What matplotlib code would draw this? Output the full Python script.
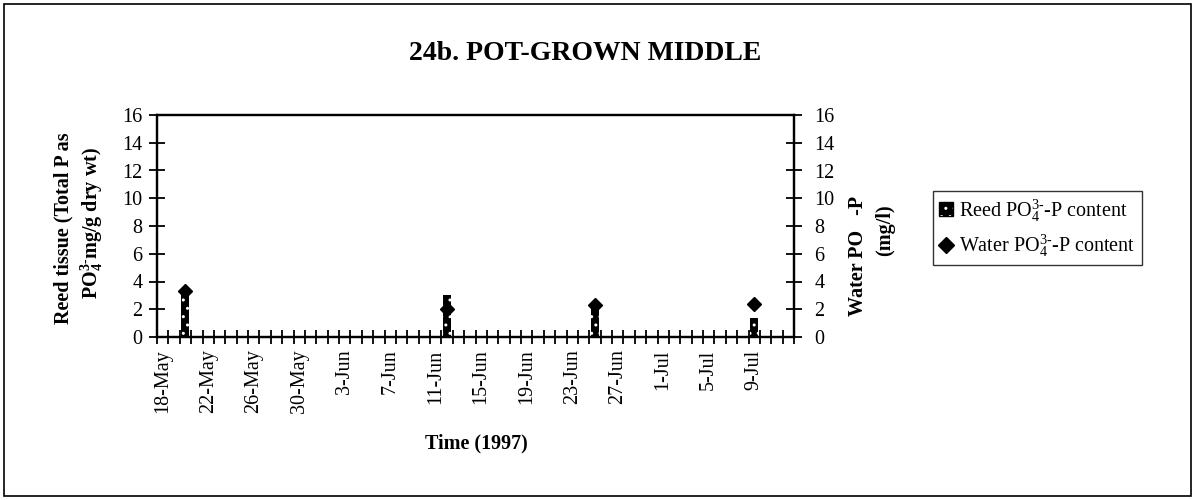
import datetime as dt

import numpy as np
import matplotlib
matplotlib.use("Agg")
import matplotlib.pyplot as plt
import matplotlib.dates as mdates
from matplotlib.patches import Patch, Rectangle
from matplotlib.lines import Line2D
from matplotlib.ticker import FixedLocator, FuncFormatter, NullFormatter

# Sampling dates and phosphate measurements
sample_dates = ["1997-05-20", "1997-06-12", "1997-06-25", "1997-07-09"]
reed_po4_p = [3.1, 3.0, 2.1, 1.4]      # reed tissue, mg/g dry wt
water_po4_p = [3.3, 2.0, 2.3, 2.4]     # water, mg/l

# Date axis extent (one category per day) and labelling interval
axis_first_day = "1997-05-18"
axis_last_day = "1997-07-12"
label_step_days = 4
y_ticks = [0, 2, 4, 6, 8, 10, 12, 14, 16]

PO4 = r"PO$_4^{3\text{-}}$"
title_text = "24b. POT-GROWN MIDDLE"
x_title = "Time (1997)"
left_title_lines = ["Reed tissue (Total P as", PO4 + "mg/g dry wt)"]
right_title_lines = ["Water PO   -P", "(mg/l)"]
legend_labels = ["Reed " + PO4 + "-P content", "Water " + PO4 + "-P content"]

plt.rcParams.update({
    "font.family": ["Liberation Serif", "DejaVu Serif"],
    "mathtext.fontset": "custom",
    "mathtext.rm": "Liberation Serif",
    "mathtext.default": "regular",
    "hatch.linewidth": 1.0,
})

W, H = 1195, 500
fig = plt.figure(figsize=(W / 100, H / 100), dpi=100)

# plot area in pixel coordinates
px_left, px_right, px_top, px_bottom = 157, 794, 115, 337
ax = fig.add_axes([px_left / W, 1 - px_bottom / H,
                   (px_right - px_left) / W, (px_bottom - px_top) / H])

x = mdates.date2num([dt.date.fromisoformat(d) for d in sample_dates])
first = mdates.date2num(dt.date.fromisoformat(axis_first_day))
last = mdates.date2num(dt.date.fromisoformat(axis_last_day))

# reed bars: black columns with a white dotted texture
ax.bar(x, reed_po4_p, width=0.7, color="black", zorder=2)
ax.bar(x, reed_po4_p, width=0.7, facecolor="none", edgecolor="white",
       linewidth=0, hatch="..", zorder=3)

ax.set_xlim(first - 0.5, last + 0.5)
ax.set_ylim(y_ticks[0], y_ticks[-1])
ax.set_yticks(y_ticks)

# water series on the secondary axis
ax2 = ax.twinx()
ax2.set_ylim(y_ticks[0], y_ticks[-1])
ax2.set_yticks(y_ticks)
ax2.plot(x, water_po4_p, linestyle="none", marker="D", markersize=7.5,
         color="black", zorder=5)

# x axis: labels on every 4th day, tick marks between the days
label_pos = np.arange(first, last + 0.5, label_step_days)
ax.xaxis.set_major_locator(FixedLocator(label_pos))
ax.xaxis.set_major_formatter(FuncFormatter(
    lambda v, _: f"{mdates.num2date(v).day}-{mdates.num2date(v).strftime('%b')}"))
ax.xaxis.set_minor_locator(FixedLocator(np.arange(first - 0.5, last + 1.0, 1.0)))
ax.xaxis.set_minor_formatter(NullFormatter())
ax.tick_params(axis="x", which="major", length=0, pad=9, labelsize=14.5,
               labelrotation=90)
ax.tick_params(axis="x", which="minor", direction="inout", length=10, width=1.3)

ax.tick_params(axis="y", direction="inout", length=11, width=1.3,
               labelsize=14.5, pad=5)
ax2.tick_params(axis="y", direction="inout", length=11, width=1.3,
                labelsize=14.5, pad=9)

for a in (ax, ax2):
    for s in a.spines.values():
        s.set_linewidth(1.6)

# titles
fig.text(585 / W, 1 - 53 / H, title_text, ha="center", va="center",
         fontsize=20, fontweight="bold")
fig.text(476 / W, 1 - 443 / H, x_title, ha="center", va="center",
         fontsize=14.5, fontweight="bold")
fig.text(63 / W, 1 - 228 / H, left_title_lines[0], rotation=90,
         ha="center", va="center", fontsize=14.5, fontweight="bold")
fig.text(92 / W, 1 - 223 / H, left_title_lines[1], rotation=90,
         ha="center", va="center", fontsize=14.5, fontweight="bold")
fig.text(858 / W, 1 - 256 / H, right_title_lines[0], rotation=90,
         ha="center", va="center", fontsize=14.5, fontweight="bold")
fig.text(885 / W, 1 - 230 / H, right_title_lines[1], rotation=90,
         ha="center", va="center", fontsize=14.5, fontweight="bold")

# legend
reed_handle = (Patch(facecolor="black", edgecolor="black"),
               Patch(facecolor="none", edgecolor="white", hatch="..", linewidth=0))
water_handle = Line2D([], [], linestyle="none", marker="D", markersize=8,
                      color="black")
leg = fig.legend([reed_handle, water_handle], legend_labels,
                 loc="upper left", bbox_to_anchor=(933 / W, 1 - 191 / H),
                 frameon=True, fancybox=False, edgecolor="black",
                 fontsize=14.5, handlelength=0.7, handleheight=0.7,
                 handletextpad=0.3, borderpad=0.3, labelspacing=0.45,
                 borderaxespad=0)
leg.get_frame().set_linewidth(1.0)

# outer chart border
fig.patches.append(Rectangle((4 / W, 4 / H), (W - 8) / W, (H - 8) / H,
                             transform=fig.transFigure, fill=False,
                             edgecolor="black", linewidth=1.2))

fig.savefig("out.png", dpi=100)
